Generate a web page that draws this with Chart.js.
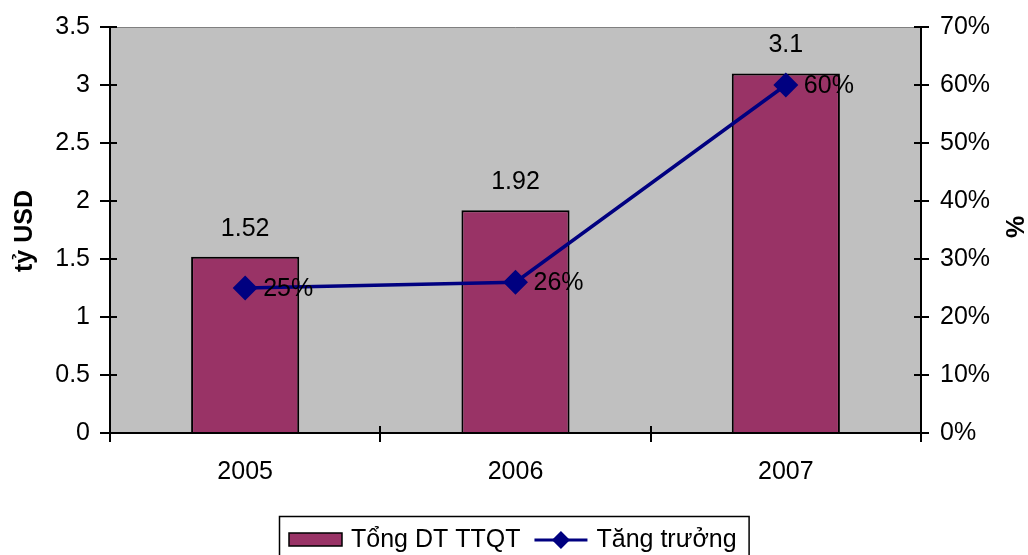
<!DOCTYPE html>
<html>
<head>
<meta charset="utf-8">
<script src="https://cdn.jsdelivr.net/npm/chart.js@4.4.0/dist/chart.umd.min.js"></script>
<style>
  html, body { margin: 0; padding: 0; background: #fff; }
  #wrap { width: 1028px; height: 555px; position: relative; }
</style>
</head>
<body>
<div id="wrap"><canvas id="c"></canvas></div>
<script>
const categories = ['2005', '2006', '2007'];
const revenue = [1.52, 1.92, 3.1];      // tỷ USD
const growth = [25, 26, 60];            // %
const revenueLabel = 'Tổng DT TTQT';
const growthLabel = 'Tăng trưởng';
const leftTitle = 'tỷ USD';
const rightTitle = '%';

const FONT = '"Liberation Sans", Arial, sans-serif';
const FS = 25;
const BAR_COLOR = '#993366';
const LINE_COLOR = '#000080';

Chart.defaults.font.family = FONT;
Chart.defaults.font.size = FS;
Chart.defaults.color = '#000';

const decor = {
  id: 'decor',
  beforeDraw(chart) {
    const { ctx, chartArea: a } = chart;
    ctx.save();
    ctx.fillStyle = '#C0C0C0';
    ctx.fillRect(a.left, a.top, a.right - a.left, a.bottom - a.top);
    ctx.strokeStyle = '#808080';
    ctx.lineWidth = 1;
    ctx.beginPath();
    ctx.moveTo(a.left, a.top + 0.5);
    ctx.lineTo(a.right, a.top + 0.5);
    ctx.stroke();
    ctx.restore();
  },
  afterDraw(chart) {
    const { ctx, chartArea: a, scales } = chart;
    ctx.save();
    ctx.strokeStyle = '#000';
    ctx.lineWidth = 2;
    const ys = scales.y, y1 = scales.y1;
    ctx.beginPath();
    ys.ticks.forEach((t, i) => { const p = Math.round(ys.getPixelForTick(i)); ctx.moveTo(a.left, p); ctx.lineTo(a.left + 7, p); });
    y1.ticks.forEach((t, i) => { const p = Math.round(y1.getPixelForTick(i)); ctx.moveTo(a.right, p); ctx.lineTo(a.right - 7, p); });
    const n = categories.length;
    for (let i = 0; i <= n; i++) {
      const p = Math.round(a.left + i * (a.right - a.left) / n);
      ctx.moveTo(p, a.bottom); ctx.lineTo(p, a.bottom - 7);
    }
    ctx.stroke();

    // data labels
    ctx.fillStyle = '#000';
    ctx.font = FS + 'px ' + FONT;
    ctx.textAlign = 'center';
    ctx.textBaseline = 'middle';
    const barMeta = chart.getDatasetMeta(0);
    barMeta.data.forEach((el, i) => {
      ctx.fillText(String(revenue[i]), el.x, el.y - 28);
    });
    const lineMeta = chart.getDatasetMeta(1);
    ctx.textAlign = 'left';
    lineMeta.data.forEach((el, i) => {
      ctx.fillText(growth[i] + '%', el.x + 18, el.y + 1);
    });

    // axis titles
    ctx.font = 'bold ' + FS + 'px ' + FONT;
    ctx.textAlign = 'center';
    ctx.save();
    ctx.translate(25, (a.top + a.bottom) / 2 + 1);
    ctx.rotate(-Math.PI / 2);
    ctx.fillText(leftTitle, 0, 0);
    ctx.restore();
    ctx.save();
    ctx.translate(1017, (a.top + a.bottom) / 2 - 3);
    ctx.rotate(-Math.PI / 2);
    ctx.fillText(rightTitle, 0, 0);
    ctx.restore();

    // legend
    ctx.font = FS + 'px ' + FONT;
    const ds = chart.data.datasets;
    const w1 = ctx.measureText(ds[0].label).width;
    const w2 = ctx.measureText(ds[1].label).width;
    const sw = 53, gap1 = 9, gap2 = 14;
    const inner = sw + gap1 + w1 + gap2 + sw + gap1 + w2;
    const boxW = inner + 22;
    const cx = 514;
    const bx = Math.round(cx - boxW / 2), by = 516;
    ctx.lineWidth = 1.5;
    ctx.strokeStyle = '#000';
    ctx.fillStyle = '#fff';
    ctx.fillRect(bx, by, boxW, 60);
    ctx.strokeRect(bx + 0.5, by + 0.5, boxW, 60);
    const cy = 540;
    let x = bx + 10;
    ctx.fillStyle = ds[0].backgroundColor;
    ctx.fillRect(x, cy - 7, sw, 13);
    ctx.strokeStyle = '#000';
    ctx.lineWidth = 1.5;
    ctx.strokeRect(x, cy - 7, sw, 13);
    x += sw + gap1;
    ctx.fillStyle = '#000';
    ctx.textAlign = 'left';
    ctx.fillText(ds[0].label, x, cy);
    x += w1 + gap2;
    ctx.strokeStyle = ds[1].borderColor;
    ctx.lineWidth = 3;
    ctx.beginPath(); ctx.moveTo(x, cy); ctx.lineTo(x + sw, cy); ctx.stroke();
    const mx = x + sw / 2, r = 9;
    ctx.fillStyle = ds[1].borderColor;
    ctx.beginPath();
    ctx.moveTo(mx, cy - r); ctx.lineTo(mx + r, cy); ctx.lineTo(mx, cy + r); ctx.lineTo(mx - r, cy); ctx.closePath();
    ctx.fill();
    x += sw + gap1;
    ctx.fillStyle = '#000';
    ctx.fillText(ds[1].label, x, cy);
    ctx.restore();
  }
};

new Chart(document.getElementById('c'), {
  data: {
    labels: categories,
    datasets: [
      {
        type: 'bar',
        label: revenueLabel,
        data: revenue,
        yAxisID: 'y',
        backgroundColor: BAR_COLOR,
        borderColor: '#000',
        borderWidth: 2,
        categoryPercentage: 1,
        barPercentage: 0.4,
        order: 2
      },
      {
        type: 'line',
        label: growthLabel,
        data: growth,
        yAxisID: 'y1',
        borderColor: LINE_COLOR,
        backgroundColor: LINE_COLOR,
        borderWidth: 3.5,
        pointStyle: 'rectRot',
        pointRadius: 10,
        pointBackgroundColor: LINE_COLOR,
        pointBorderColor: LINE_COLOR,
        tension: 0,
        order: 1
      }
    ]
  },
  options: {
    responsive: true,
    maintainAspectRatio: false,
    animation: false,
    layout: { padding: { top: 27, left: 0, right: 0, bottom: 0 } },
    plugins: { legend: { display: false }, tooltip: { enabled: false } },
    scales: {
      x: {
        offset: true,
        grid: { offset: true, drawOnChartArea: false, drawTicks: true, tickLength: 9, color: '#000', lineWidth: 2 },
        border: { color: '#000', width: 2 },
        ticks: { padding: 15, font: { size: FS }, color: '#000' },
        afterFit(s) { s.height = 122; }
      },
      y: {
        position: 'left',
        min: 0, max: 3.5,
        ticks: { stepSize: 0.5, padding: 10, font: { size: FS }, color: '#000', callback: v => String(v) },
        grid: { drawOnChartArea: false, tickLength: 10, color: '#000', lineWidth: 2 },
        border: { color: '#000', width: 2 },
        afterFit(s) { s.width = 110; }
      },
      y1: {
        position: 'right',
        min: 0, max: 70,
        ticks: { stepSize: 10, padding: 11, font: { size: FS }, color: '#000', callback: v => v + '%' },
        grid: { drawOnChartArea: false, tickLength: 8, color: '#000', lineWidth: 2 },
        border: { color: '#000', width: 2 },
        afterFit(s) { s.width = 107; }
      }
    }
  },
  plugins: [decor]
});
</script>
</body>
</html>
